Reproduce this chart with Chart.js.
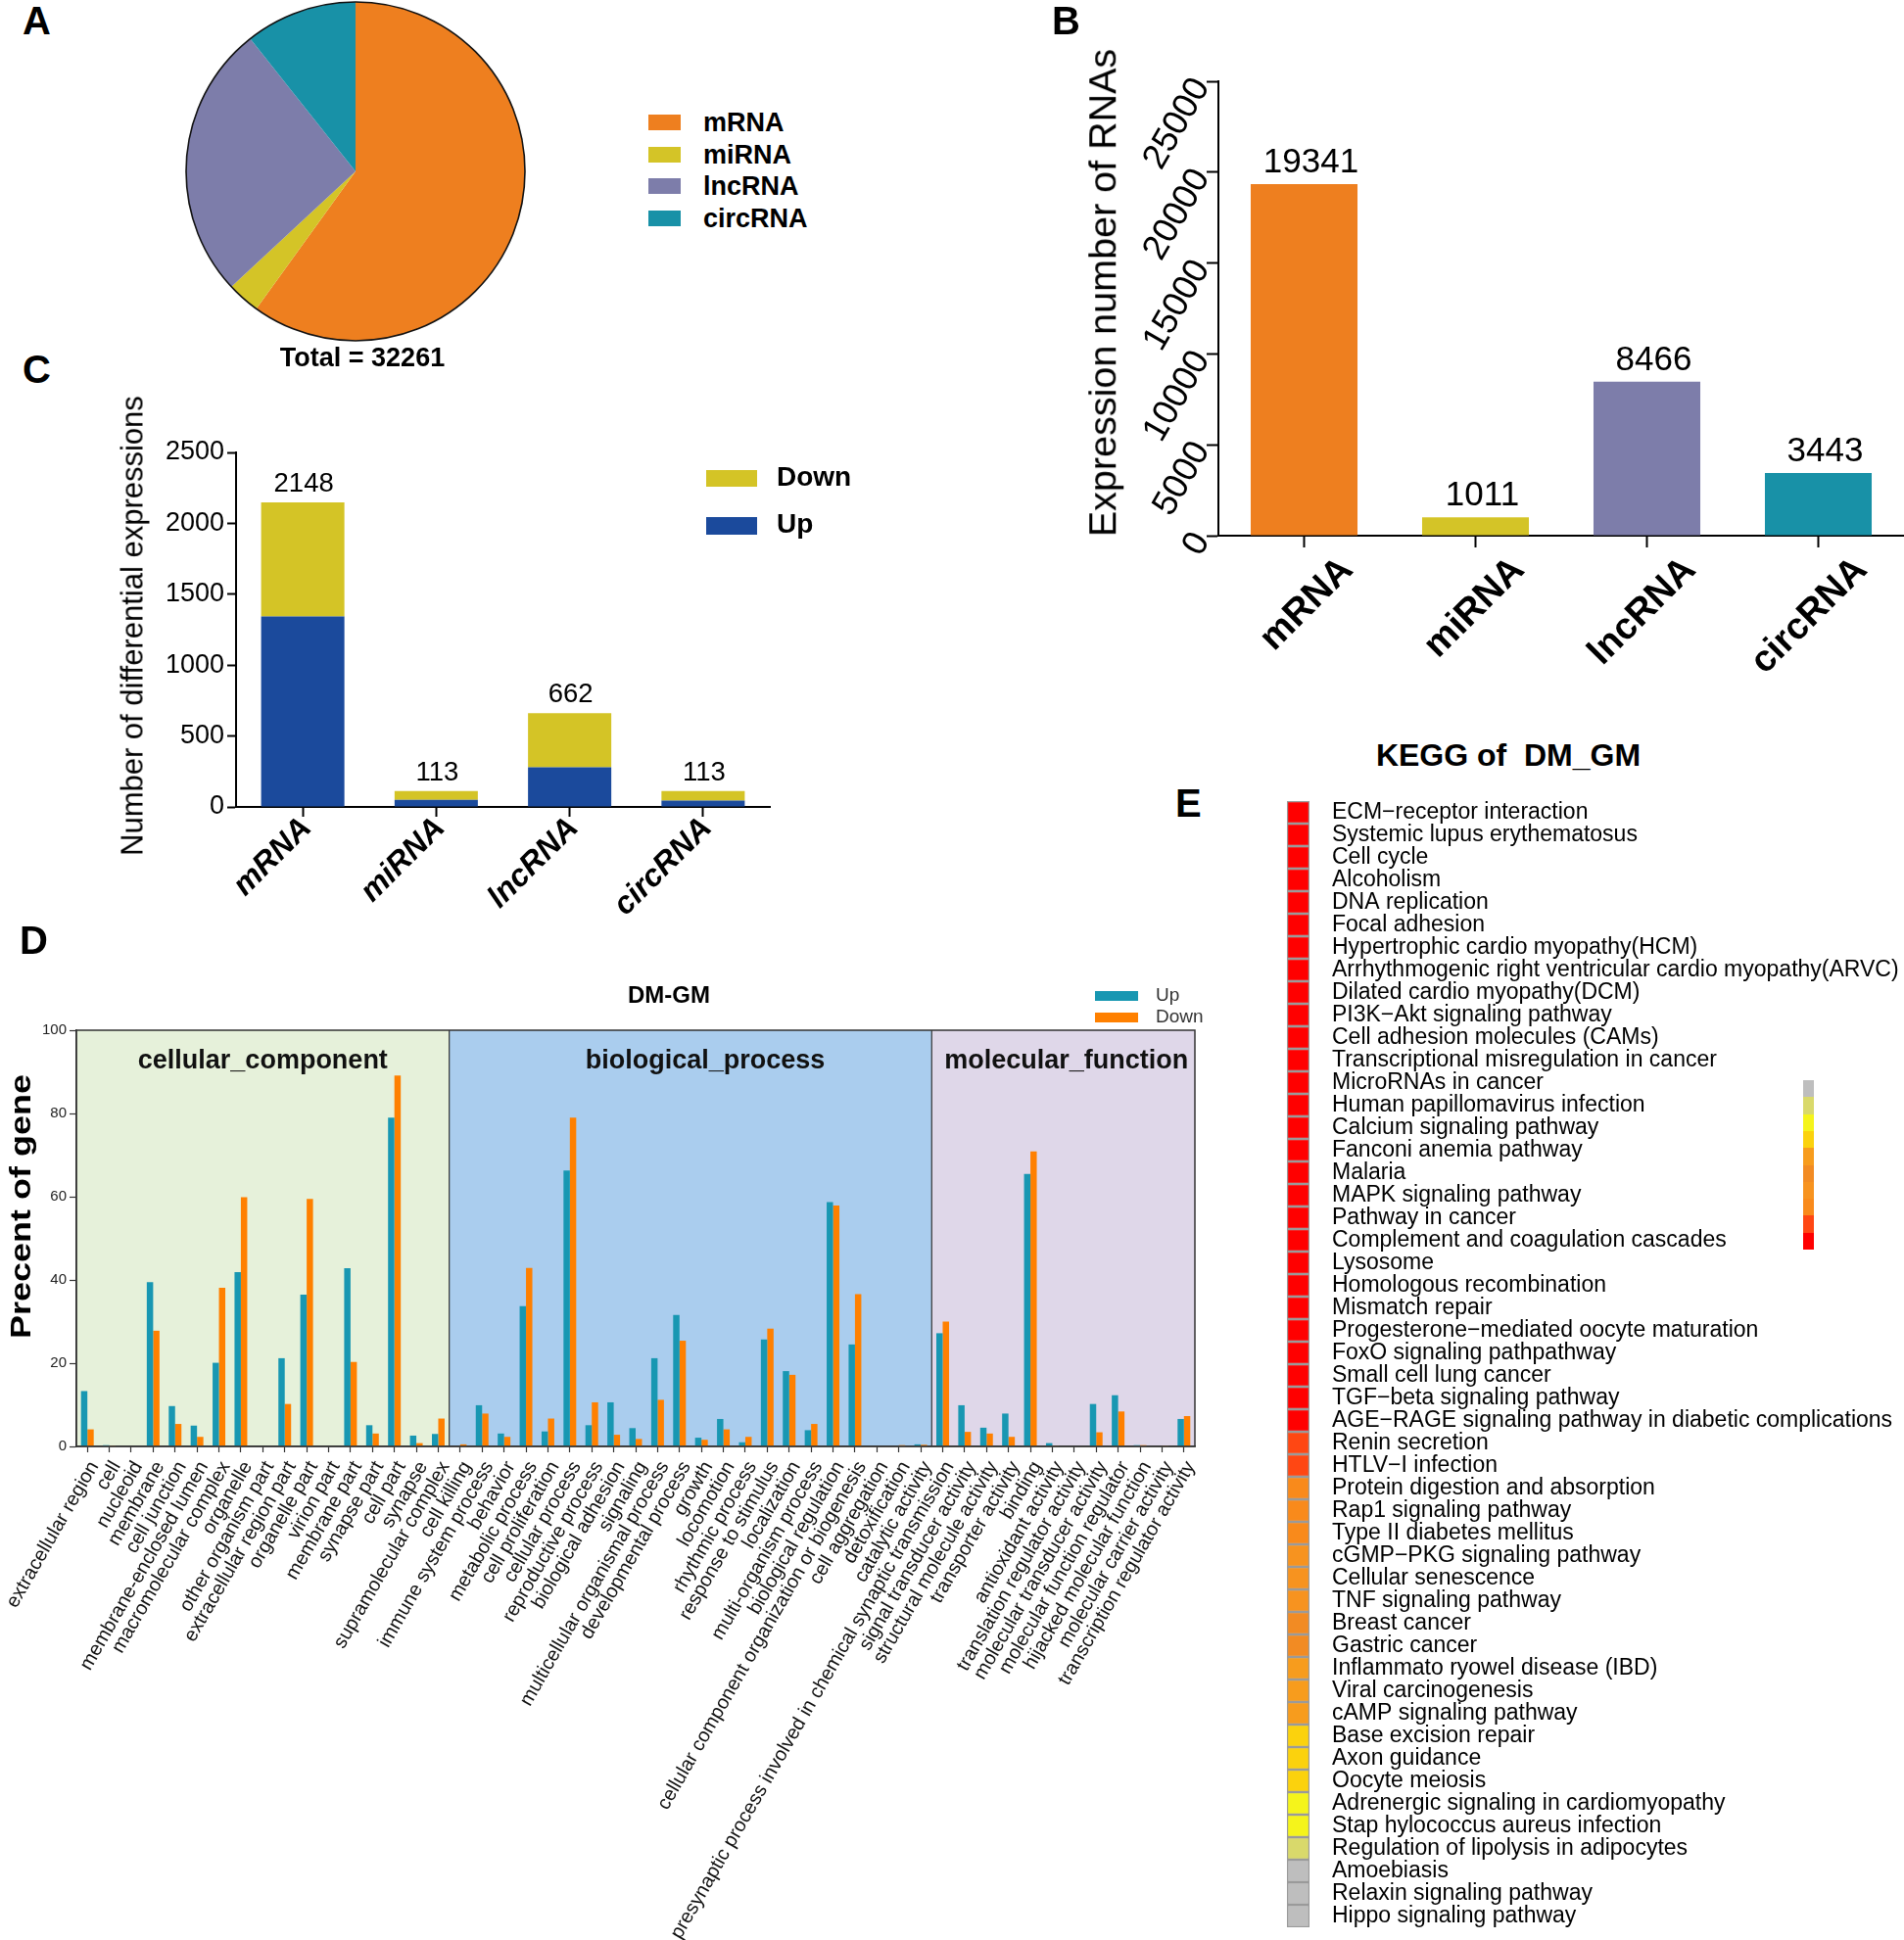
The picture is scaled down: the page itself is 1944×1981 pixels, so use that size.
<!DOCTYPE html>
<html>
<head>
<meta charset="utf-8">
<title>RNA expression overview</title>
<script src="https://cdn.jsdelivr.net/npm/chart.js@4.4.1/dist/chart.umd.min.js"></script>
<style>
  html, body { margin: 0; padding: 0; background: #fff; }
  body { position: relative; width: 1944px; height: 1981px; overflow: hidden;
         font-family: "Liberation Sans", Arial, Helvetica, sans-serif; color: #000; }
  canvas { position: absolute; }
  .txt { position: absolute; white-space: pre; }
  .key { position: absolute; }
</style>
</head>
<body>
<canvas id="chartA" width="352" height="352" style="left:187px;top:-1px"></canvas>
<canvas id="chartB" width="864" height="700" style="left:1080px;top:0px"></canvas>
<canvas id="chartC" width="900" height="540" style="left:0px;top:400px"></canvas>
<canvas id="chartD" width="1240" height="991" style="left:0px;top:990px"></canvas>
<canvas id="chartE" width="664" height="1181" style="left:1280px;top:800px"></canvas>
<script>
// ---- data ----
const rnaTypes = ["mRNA", "miRNA", "lncRNA", "circRNA"];
const rnaCounts = [19341, 1011, 8466, 3443];
const rnaColors = ["#EE7F1F", "#D4C427", "#7D7DAA", "#1891A7"];

const diffUp = [1343, 50, 280, 45];
const diffDown = [805, 63, 382, 68];
const diffUpColor = "#1B4A9C";
const diffDownColor = "#D4C426";

const goSections = ["cellular_component", "biological_process", "molecular_function"];
const goSectionSizes = [17, 22, 12];
const goSectionColors = ["#E6F1DA", "#AACDEE", "#DFD7E9"];
const goTerms = [
  "extracellular region", "cell", "nucleoid", "membrane", "cell junction", "membrane-enclosed lumen",
  "macromolecular complex", "organelle", "other organism part", "extracellular region part",
  "organelle part", "virion part", "membrane part", "synapse part", "cell part", "synapse",
  "supramolecular complex",
  "cell killing", "immune system process", "behavior", "metabolic process", "cell proliferation",
  "cellular process", "reproductive process", "biological adhesion", "signaling",
  "multicellular organismal process", "developmental process", "growth", "locomotion",
  "rhythmic process", "response to stimulus", "localization", "multi-organism process",
  "biological regulation", "cellular component organization or biogenesis", "cell aggregation",
  "detoxification", "catalytic activity",
  "presynaptic process involved in chemical synaptic transmission", "signal transducer activity",
  "structural molecule activity", "transporter activity", "binding", "antioxidant activity",
  "translation regulator activity", "molecular transducer activity", "molecular function regulator",
  "hijacked molecular function", "molecular carrier activity", "transcription regulator activity"
];
const goUp = [
  13.3, 0.3, 0, 39.5, 9.7, 5.0, 20.1, 41.9, 0, 21.2, 36.5, 0, 42.8, 5.1, 79.0, 2.6, 3.0,
  0, 9.9, 3.1, 33.7, 3.6, 66.3, 5.1, 10.6, 4.4, 21.2, 31.6, 2.1, 6.6, 1.0, 25.7, 18.1, 3.9,
  58.7, 24.5, 0, 0, 0.5,
  27.2, 9.9, 4.5, 7.9, 65.5, 0.8, 0, 10.2, 12.3, 0.3, 0, 6.6
];
const goDown = [
  4.1, 0.2, 0, 27.8, 5.4, 2.3, 38.1, 59.9, 0, 10.2, 59.5, 0, 20.3, 3.1, 89.1, 0.8, 6.7,
  0.5, 7.9, 2.3, 42.9, 6.7, 79.0, 10.6, 2.8, 1.8, 11.2, 25.4, 1.6, 4.1, 2.3, 28.3, 17.2, 5.4,
  57.9, 36.6, 0, 0.3, 0.4,
  30.0, 3.5, 3.1, 2.3, 70.9, 0.2, 0, 3.4, 8.4, 0.3, 0.2, 7.3
];
const goUpColor = "#1897B2";
const goDownColor = "#FF8000";

const keggTerms = [
  "ECM\u2212receptor interaction", "Systemic lupus erythematosus", "Cell cycle", "Alcoholism",
  "DNA replication", "Focal adhesion", "Hypertrophic cardio myopathy(HCM)",
  "Arrhythmogenic right ventricular cardio myopathy(ARVC)", "Dilated cardio myopathy(DCM)",
  "PI3K\u2212Akt signaling pathway", "Cell adhesion molecules (CAMs)",
  "Transcriptional misregulation in cancer", "MicroRNAs in cancer", "Human papillomavirus infection",
  "Calcium signaling pathway", "Fanconi anemia pathway", "Malaria", "MAPK signaling pathway",
  "Pathway in cancer", "Complement and coagulation cascades", "Lysosome", "Homologous recombination",
  "Mismatch repair", "Progesterone\u2212mediated oocyte maturation", "FoxO signaling pathpathway",
  "Small cell lung cancer", "TGF\u2212beta signaling pathway",
  "AGE\u2212RAGE signaling pathway in diabetic complications", "Renin secretion", "HTLV\u2212I infection",
  "Protein digestion and absorption", "Rap1 signaling pathway", "Type II diabetes mellitus",
  "cGMP\u2212PKG signaling pathway", "Cellular senescence", "TNF signaling pathway", "Breast cancer",
  "Gastric cancer", "Inflammato ryowel disease (IBD)", "Viral carcinogenesis", "cAMP signaling pathway",
  "Base excision repair", "Axon guidance", "Oocyte meiosis", "Adrenergic signaling in cardiomyopathy",
  "Stap hylococcus aureus infection", "Regulation of lipolysis in adipocytes", "Amoebiasis",
  "Relaxin signaling pathway", "Hippo signaling pathway"
];
// colour level of each pathway (index into keggPalette, low -> high)
const keggLevel = [
  9, 9, 9, 9, 9, 9, 9, 9, 9, 9, 9, 9, 9, 9, 9, 9, 9, 9, 9, 9, 9, 9, 9, 9, 9, 9, 9, 9,
  8, 8, 7, 7, 7, 6, 6, 6, 5, 5, 4, 4, 4, 3, 3, 3, 2, 2, 1, 0, 0, 0
];
const keggPalette = ["#BEBEBE", "#D9D96B", "#F5F41B", "#FBD20D", "#F79C1D",
                     "#F28B23", "#F7931F", "#F98A1B", "#FF4713", "#FF0000"];

// ---- common setup ----
const FONT = "'Liberation Sans', Arial, Helvetica, sans-serif";
Chart.defaults.font.family = FONT;
Chart.defaults.color = "#000";
Chart.defaults.animation = false;
Chart.defaults.responsive = false;
Chart.defaults.devicePixelRatio = 1;
Chart.defaults.plugins.legend.display = false;
Chart.defaults.plugins.tooltip.enabled = false;

// force axis box sizes so the plot areas land where the figure has them
const fixW = w => s => { s.width = w; s.paddingTop = 0; s.paddingBottom = 0; };
const fixH = h => s => { s.height = h; s.paddingLeft = 0; s.paddingRight = 0; };
const plain = v => String(v);

function label(text, x, base, size, o = {}) {
  const d = document.createElement("div");
  d.className = "txt";
  d.textContent = text;
  d.style.font = (o.bold ? "bold " : "") + size + "px " + FONT;
  d.style.lineHeight = size + "px";
  d.style.left = x + "px";
  d.style.top = (base - 0.8465 * size) + "px";
  if (o.center) d.style.transform = "translateX(-50%)";
  if (o.color) d.style.color = o.color;
  document.body.appendChild(d);
}

function vlabel(text, cx, cy, size, o = {}) {
  const d = document.createElement("div");
  d.className = "txt";
  d.textContent = text;
  d.style.font = (o.bold ? "bold " : "") + size + "px " + FONT;
  d.style.lineHeight = size + "px";
  d.style.left = cx + "px";
  d.style.top = cy + "px";
  d.style.transform = "translate(-50%, -50%) rotate(-90deg) scaleX(" + (o.stretch || 1) + ")";
  document.body.appendChild(d);
}

function box(x, y, w, h, color) {
  const d = document.createElement("div");
  d.className = "key";
  Object.assign(d.style, { left: x + "px", top: y + "px", width: w + "px", height: h + "px", background: color });
  document.body.appendChild(d);
}

function stackTotals(font, gap, dx) {
  return {
    id: "stackTotals",
    afterDatasetsDraw(chart) {
      const { ctx } = chart;
      const sets = chart.data.datasets;
      const topMeta = chart.getDatasetMeta(sets.length - 1);
      ctx.save();
      ctx.font = font;
      ctx.fillStyle = "#000";
      ctx.textAlign = "center";
      ctx.textBaseline = "alphabetic";
      topMeta.data.forEach((bar, i) => {
        const total = sets.reduce((sum, ds) => sum + ds.data[i], 0);
        ctx.fillText(String(total), bar.x + dx, bar.y - gap);
      });
      ctx.restore();
    }
  };
}

// ---- A: pie ----
const pieOutline = {
  id: "pieOutline",
  afterDatasetsDraw(chart) {
    const arc = chart.getDatasetMeta(0).data[0];
    const { ctx } = chart;
    ctx.save();
    ctx.beginPath();
    ctx.arc(arc.x, arc.y, arc.outerRadius, 0, Math.PI * 2);
    ctx.lineWidth = 1.6;
    ctx.strokeStyle = "#111";
    ctx.stroke();
    ctx.restore();
  }
};

new Chart(document.getElementById("chartA"), {
  type: "pie",
  data: { labels: rnaTypes, datasets: [{ data: rnaCounts, backgroundColor: rnaColors, borderWidth: 0 }] },
  options: { layout: { padding: 3 } },
  plugins: [pieOutline]
});

rnaTypes.forEach((t, i) => {
  const cy = 125 + i * 32.7;
  box(662, cy - 8, 33, 16, rnaColors[i]);
  label(t, 718, cy + 9.7, 27, { bold: true });
});
label("Total = " + rnaCounts.reduce((a, b) => a + b, 0), 370, 375, 27, { bold: true, center: true });

// ---- B: expression counts ----
new Chart(document.getElementById("chartB"), {
  type: "bar",
  data: {
    labels: rnaTypes,
    datasets: [{ data: rnaCounts, backgroundColor: rnaColors, barPercentage: 0.623, categoryPercentage: 1 }]
  },
  options: {
    layout: { padding: { top: 83, left: 0, right: 0, bottom: 0 } },
    scales: {
      x: {
        grid: { drawOnChartArea: false, offset: false, tickLength: 12, tickWidth: 2, tickColor: "#000" },
        border: { color: "#000", width: 2 },
        ticks: { font: { size: 38, weight: "bold" }, minRotation: 45, maxRotation: 45,
                 labelOffset: 44, padding: 1, autoSkip: false, color: "#000" },
        afterFit: fixH(153)
      },
      y: {
        min: 0, max: 25000,
        grid: { drawOnChartArea: false, tickLength: 12, tickWidth: 2, tickColor: "#000" },
        border: { color: "#000", width: 2 },
        ticks: { stepSize: 5000, font: { size: 36 }, minRotation: 60, maxRotation: 60,
                 padding: 5, autoSkip: false, color: "#000", callback: plain },
        afterFit: fixW(164)
      }
    }
  },
  plugins: [stackTotals("35px " + FONT, 12, 7)]
});
vlabel("Expression number of RNAs", 1126, 299, 39.5);

// ---- C: differential expression ----
new Chart(document.getElementById("chartC"), {
  type: "bar",
  data: {
    labels: rnaTypes,
    datasets: [
      { label: "Up", data: diffUp, backgroundColor: diffUpColor, barPercentage: 0.624, categoryPercentage: 1 },
      { label: "Down", data: diffDown, backgroundColor: diffDownColor, barPercentage: 0.624, categoryPercentage: 1 }
    ]
  },
  options: {
    layout: { padding: { top: 62, left: 0, right: 114, bottom: 0 } },
    scales: {
      x: {
        stacked: true,
        grid: { drawOnChartArea: false, offset: false, tickLength: 10, tickWidth: 2, tickColor: "#000" },
        border: { color: "#000", width: 2 },
        ticks: { font: { size: 32, weight: "bold", style: "italic" }, minRotation: 45, maxRotation: 45,
                 labelOffset: 4, padding: -7, autoSkip: false, color: "#000" },
        afterFit: fixH(116)
      },
      y: {
        stacked: true, min: 0, max: 2500,
        grid: { drawOnChartArea: false, tickLength: 9, tickWidth: 2, tickColor: "#000" },
        border: { color: "#000", width: 2 },
        ticks: { stepSize: 500, font: { size: 27 }, padding: 3, autoSkip: false, color: "#000", callback: plain },
        afterFit: fixW(241)
      }
    }
  },
  plugins: [stackTotals("27.5px " + FONT, 11, 1)]
});
vlabel("Number of differential expressions", 135, 639, 31);
box(721, 480, 52, 17, diffDownColor);
label("Down", 793, 497, 28, { bold: true });
box(721, 528, 52, 18, diffUpColor);
label("Up", 793, 545, 28, { bold: true });

// ---- D: GO classification ----
function sectionBounds(chart) {
  const { chartArea: a, scales: { x } } = chart;
  const step = x.getPixelForValue(1) - x.getPixelForValue(0);
  const out = [];
  let start = 0;
  goSectionSizes.forEach((n, k) => {
    const x0 = k === 0 ? a.left : x.getPixelForValue(start) - step / 2;
    const x1 = k === goSectionSizes.length - 1 ? a.right : x.getPixelForValue(start + n - 1) + step / 2;
    out.push({ x0, x1 });
    start += n;
  });
  return out;
}

const goBands = {
  id: "goBands",
  beforeDraw(chart) {
    const { ctx, chartArea: a } = chart;
    ctx.save();
    sectionBounds(chart).forEach((b, k) => {
      ctx.fillStyle = goSectionColors[k];
      ctx.fillRect(b.x0, a.top, b.x1 - b.x0, a.bottom - a.top);
    });
    ctx.restore();
  },
  afterDatasetsDraw(chart) {
    const { ctx, chartArea: a } = chart;
    const bounds = sectionBounds(chart);
    const nudge = [0, 15, 3];
    ctx.save();
    ctx.strokeStyle = "#333";
    ctx.lineWidth = 1.2;
    bounds.slice(1).forEach(b => {
      ctx.beginPath();
      ctx.moveTo(b.x0, a.top);
      ctx.lineTo(b.x0, a.bottom);
      ctx.stroke();
    });
    ctx.lineWidth = 1.5;
    ctx.strokeRect(a.left, a.top, a.right - a.left, a.bottom - a.top);
    ctx.fillStyle = "#111";
    ctx.font = "bold 27px " + FONT;
    ctx.textAlign = "center";
    ctx.textBaseline = "alphabetic";
    bounds.forEach((b, k) => ctx.fillText(goSections[k], (b.x0 + b.x1) / 2 + nudge[k], a.top + 39));
    ctx.restore();
  }
};

new Chart(document.getElementById("chartD"), {
  type: "bar",
  data: {
    labels: goTerms,
    datasets: [
      { label: "Up", data: goUp, backgroundColor: goUpColor, barPercentage: 1, categoryPercentage: 0.58 },
      { label: "Down", data: goDown, backgroundColor: goDownColor, barPercentage: 1, categoryPercentage: 0.58 }
    ]
  },
  options: {
    layout: { padding: { top: 62, left: 0, right: 20, bottom: 0 } },
    scales: {
      x: {
        grid: { drawOnChartArea: false, offset: false, tickLength: 6, tickWidth: 1.2, tickColor: "#333" },
        border: { color: "#333", width: 1.5 },
        ticks: { font: { size: 20 }, minRotation: 60, maxRotation: 60, labelOffset: 7,
                 padding: 5, autoSkip: false, color: "#111" },
        afterFit: fixH(504)
      },
      y: {
        min: 0, max: 100,
        grid: { drawOnChartArea: false, tickLength: 7, tickWidth: 1.2, tickColor: "#333" },
        border: { color: "#333", width: 1.5 },
        ticks: { stepSize: 20, font: { size: 15 }, padding: 3, autoSkip: false, color: "#222" },
        afterFit: fixW(78)
      }
    }
  },
  plugins: [goBands]
});
vlabel("Precent of gene", 21, 1232, 30, { bold: true, stretch: 1.2 });
label("DM-GM", 683, 1024, 24, { bold: true, center: true });
box(1118, 1012, 44, 10, goUpColor);
label("Up", 1180, 1022, 19, { color: "#333" });
box(1118, 1034, 44, 10, goDownColor);
label("Down", 1180, 1044, 19, { color: "#333" });

// ---- E: KEGG heatmap ----
new Chart(document.getElementById("chartE"), {
  type: "bar",
  data: {
    labels: keggTerms,
    datasets: [{
      data: keggTerms.map(() => [0, 1]),
      backgroundColor: keggLevel.map(l => keggPalette[l]),
      borderColor: "#9A9A9A",
      borderWidth: 1.5,
      borderSkipped: false,
      barPercentage: 1,
      categoryPercentage: 1
    }]
  },
  options: {
    indexAxis: "y",
    layout: { padding: { left: 34, top: 18, bottom: 13, right: 0 } },
    scales: {
      x: { display: false, min: 0, max: 1 },
      y: {
        position: "right",
        grid: { display: false },
        border: { display: false },
        ticks: { font: { size: 23 }, padding: 15, autoSkip: false, color: "#000" },
        afterFit: fixW(607)
      }
    }
  }
});
label("KEGG of  DM_GM", 1540, 782, 32, { bold: true, center: true });
keggPalette.forEach((c, i) => box(1841, 1103 + i * 17.3, 11, 17.6, c));

// ---- panel letters ----
label("A", 23, 35, 40, { bold: true });
label("B", 1074, 35, 40, { bold: true });
label("C", 23, 391, 40, { bold: true });
label("D", 20, 974, 40, { bold: true });
label("E", 1200, 834, 40, { bold: true });
</script>
</body>
</html>
